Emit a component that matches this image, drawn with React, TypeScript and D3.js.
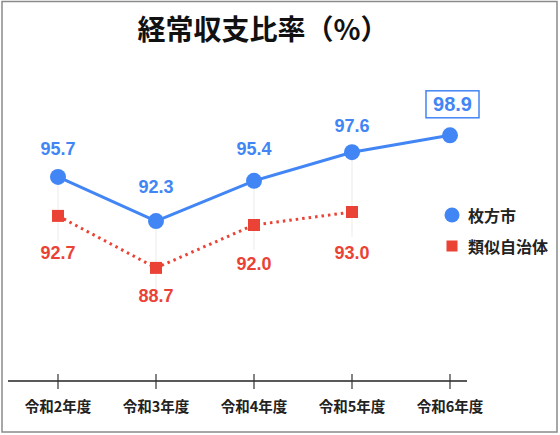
import React from "react";
import * as d3 from "d3";

const categories = ["令和2年度", "令和3年度", "令和4年度", "令和5年度", "令和6年度"];
const hirakataValues = [95.7, 92.3, 95.4, 97.6, 98.9];
const similarValues: (number | null)[] = [92.7, 88.7, 92.0, 93.0, null];
const seriesNames = ["枚方市", "類似自治体"];
const title = "経常収支比率（%）";

const W = 560;
const H = 435;
const BLUE = "#4285F4";
const RED = "#EA4335";
const FONT = "'Liberation Sans', Arial, sans-serif";
const CJK = "'Noto Sans CJK JP', 'Liberation Sans', sans-serif";

// label offsets (layout only)
const blueLabelOffset = [-28, -34, -32, -26, -31];
const redLabelOffset = [37, 28, 39, 41, 0];

export default function App() {
  const x = d3.scalePoint<string>().domain(categories).range([58, 450]);
  const y = d3.scaleLinear().domain([80, 100]).range([381, 121]);

  const blueLine = d3
    .line<number>()
    .x((_, i) => x(categories[i])!)
    .y((d) => y(d))(hirakataValues)!;

  const redPts = similarValues
    .map((v, i) => ({ v, i }))
    .filter((d) => d.v !== null) as { v: number; i: number }[];
  const redLine = d3
    .line<{ v: number; i: number }>()
    .x((d) => x(categories[d.i])!)
    .y((d) => y(d.v))(redPts)!;

  const lastIdx = hirakataValues.length - 1;

  return (
    <svg
      width={W}
      height={H}
      style={{ position: "absolute", left: 0, top: 0, background: "#fff" }}
    >
      <rect x={2} y={1.5} width={555} height={430.5} fill="#fff" stroke="#8a8a8a" strokeWidth={1.5} />
      <text
        x={263}
        y={28}
        textAnchor="middle"
        dominantBaseline="central"
        fontFamily={CJK}
        fontWeight={700}
        fontSize={28}
        fill="#111"
      >
        {title}
      </text>

      {/* faint vertical guides */}
      {categories.map((c, i) => (
        <line
          key={"g" + i}
          x1={x(c)}
          x2={x(c)}
          y1={y(hirakataValues[i]) - 8}
          y2={similarValues[i] !== null ? y(similarValues[i] as number) + 25 : y(hirakataValues[i]) + 8}
          stroke="#eeeeee"
          strokeWidth={1.2}
        />
      ))}

      {/* axis */}
      <line x1={8} x2={467} y1={y(80)} y2={y(80)} stroke="#222" strokeWidth={1.5} />
      {categories.map((c) => (
        <g key={c}>
          <line x1={x(c)} x2={x(c)} y1={y(80) - 7} y2={y(80) + 8} stroke="#333" strokeWidth={1.2} />
          <text
            x={x(c)}
            y={y(80) + 24}
            textAnchor="middle"
            dominantBaseline="central"
            fontFamily={CJK}
            fontWeight={700}
            fontSize={14.5}
            fill="#222"
          >
            {c}
          </text>
        </g>
      ))}

      {/* red dotted series */}
      <path d={redLine} fill="none" stroke={RED} strokeWidth={3} strokeDasharray="2.5 4" />
      {redPts.map((d) => (
        <g key={"r" + d.i}>
          <rect
            x={x(categories[d.i])! - 6}
            y={y(d.v) - 6}
            width={12}
            height={12}
            fill={RED}
          />
          <text
            x={x(categories[d.i])}
            y={y(d.v) + redLabelOffset[d.i]}
            textAnchor="middle"
            dominantBaseline="central"
            fontFamily={FONT}
            fontWeight={700}
            fontSize={18}
            fill={RED}
          >
            {d.v.toFixed(1)}
          </text>
        </g>
      ))}

      {/* blue series */}
      <path d={blueLine} fill="none" stroke={BLUE} strokeWidth={3} />
      {hirakataValues.map((v, i) => (
        <g key={"b" + i}>
          <circle cx={x(categories[i])} cy={y(v)} r={8} fill={BLUE} />
          {i === lastIdx && (
            <rect
              x={x(categories[i])! - 24}
              y={y(v) + blueLabelOffset[i] - 13.5}
              width={53}
              height={27}
              fill="#fff"
              stroke={BLUE}
              strokeWidth={1.5}
            />
          )}
          <text
            x={x(categories[i])! + (i === lastIdx ? 2.5 : 0)}
            y={y(v) + blueLabelOffset[i]}
            textAnchor="middle"
            dominantBaseline="central"
            fontFamily={FONT}
            fontWeight={700}
            fontSize={i === lastIdx ? 20 : 18}
            fill={BLUE}
          >
            {v.toFixed(1)}
          </text>
        </g>
      ))}

      {/* legend */}
      <circle cx={452} cy={215} r={7.5} fill={BLUE} />
      <text x={468} y={215} dominantBaseline="central" fontFamily={CJK} fontWeight={700} fontSize={16} fill="#222">
        {seriesNames[0]}
      </text>
      <rect x={446.5} y={240.5} width={11} height={11} fill={RED} />
      <text x={468} y={246} dominantBaseline="central" fontFamily={CJK} fontWeight={700} fontSize={16} fill="#222">
        {seriesNames[1]}
      </text>
    </svg>
  );
}
